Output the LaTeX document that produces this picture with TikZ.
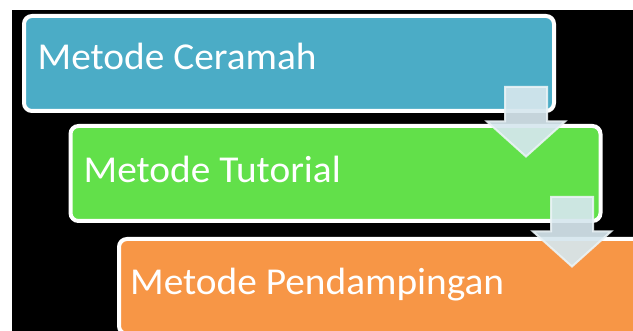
\documentclass[tikz,border=0pt]{standalone}
\usepackage{graphicx}
\usepackage{fontspec}
\setmainfont{Carlito}
\usetikzlibrary{calc}
\definecolor{cblue}{HTML}{4BACC6}
\definecolor{cgreen}{HTML}{62E04A}
\definecolor{corange}{HTML}{F79646}
\definecolor{arrowfill}{HTML}{D6E7EE}
\newcommand{\widetxt}[1]{\scalebox{1.035}[1]{#1}}
\begin{document}
\begin{tikzpicture}[x=1pt,y=-1pt,
  stepbox/.style={draw=white, line width=4pt, rounded corners=8pt,
    minimum width=530pt, minimum height=95pt, inner sep=0pt,
    anchor=north west},
  steptext/.style={text=white, inner sep=0pt, anchor=base west,
    font=\fontsize{38}{40}\selectfont},
  blockarrow/.style={fill=arrowfill, fill opacity=0.92,
    draw=arrowfill!50!white, draw opacity=0.9, line width=2pt, line join=miter}]
\useasboundingbox (0,0) rectangle (633,331);
\fill[white] (0,0) rectangle (633,331);
\fill[black] (12,10) rectangle (633,331);
\node[stepbox, fill=cblue] (b1) at (22,14) {};
\node[stepbox, fill=cgreen] (b2) at (68.5,124) {};
\node[stepbox, fill=corange] (b3) at (117,237) {};
\node[steptext] (t1) at ($(b1.north west)+(15.5,55.3)$) {\widetxt{Metode Ceramah}};
\node[steptext] (t2) at ($(b2.north west)+(15,58.7)$) {\widetxt{Metode Tutorial}};
\node[steptext] (t3) at ($(b3.north west)+(13,58)$) {\widetxt{Metode Pendampingan}};
\coordinate (c1) at ($(b1.south east)+(-30,0)$);
\coordinate (c2) at ($(b2.south east)+(-30.5,0)$);
\foreach \c in {c1,c2}{
  \draw[blockarrow] ($(\c)+(-21,-26)$) -- ($(\c)+(-21,8.5)$) -- ($(\c)+(-39,8.5)$)
    -- ($(\c)+(0,43.5)$) -- ($(\c)+(39,8.5)$) -- ($(\c)+(21,8.5)$) -- ($(\c)+(21,-26)$) -- cycle;
}
\end{tikzpicture}
\end{document}
